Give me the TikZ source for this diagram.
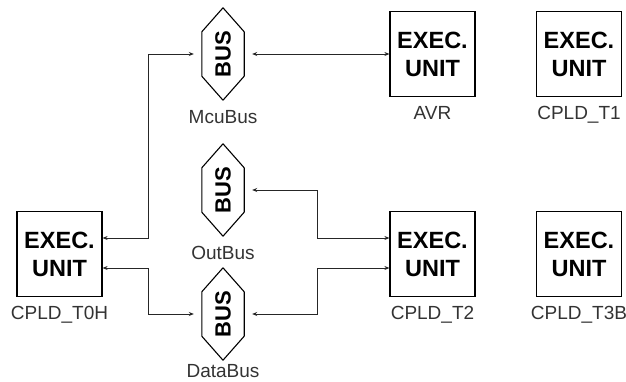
\documentclass[tikz,border=0pt]{standalone}
\usepackage{fontspec}
\setmainfont{Liberation Sans}
\usetikzlibrary{arrows.meta,positioning}

\begin{document}
\begin{tikzpicture}[
    x=1pt, y=-1pt,
    unitbox/.style={draw, line width=1.2pt, minimum size=85pt, inner sep=0pt, align=center,
        font=\fontsize{23.5}{28}\selectfont\bfseries},
    busnode/.style={minimum width=42pt, minimum height=92pt, inner sep=0pt,
        font=\fontsize{22}{22}\selectfont\bfseries},
    unitlbl/.style={inner sep=0pt, font=\fontsize{19}{19}\selectfont, text=black!80},
    link/.style={<->, black!85, line width=0.7pt, shorten <=8pt},
    >={Stealth[length=5pt,width=4pt]},
]
    \useasboundingbox (0,0) rectangle (626,382);
    % execution units
    \node[unitbox] (t0h) at (59.5,254) {EXEC.\\UNIT};
    \node[unitbox] (avr) at (432.5,54) {EXEC.\\UNIT};
    \node[unitbox] (t1)  at (579,54) {EXEC.\\UNIT};
    \node[unitbox] (t2)  at (432.5,254) {EXEC.\\UNIT};
    \node[unitbox] (t3b) at (579,254) {EXEC.\\UNIT};
    % buses
    \node[busnode] (mcu)  at (223,54)  {\rotatebox{90}{BUS}};
    \node[busnode] (out)  at (223,190) {\rotatebox{90}{BUS}};
    \node[busnode] (data) at (223,314) {\rotatebox{90}{BUS}};
    \foreach \b in {mcu,out,data} {
        \draw[line width=1.1pt, line join=round] (\b.north) -- ([yshift=-24pt]\b.north west)
            -- ([yshift=24pt]\b.south west) -- (\b.south) -- ([yshift=24pt]\b.south east)
            -- ([yshift=-24pt]\b.north east) -- cycle;
    }
    % names
    \node[unitlbl, below=9pt of t0h] (t0h-lbl) {CPLD\_T0H};
    \node[unitlbl, below=9pt of avr] (avr-lbl) {AVR};
    \node[unitlbl, below=9pt of t1]  (t1-lbl)  {CPLD\_T1};
    \node[unitlbl, below=9pt of t2]  (t2-lbl)  {CPLD\_T2};
    \node[unitlbl, below=9pt of t3b] (t3b-lbl) {CPLD\_T3B};
    \node[unitlbl, below=10pt of mcu]  (mcu-lbl)  {McuBus};
    \node[unitlbl, below=10pt of out]  (out-lbl)  {OutBus};
    \node[unitlbl, below=4pt of data] (data-lbl) {DataBus};
    % ports and bends
    \coordinate (t0h-a) at ([yshift=16pt]t0h.east);
    \coordinate (t0h-b) at ([yshift=-14pt]t0h.east);
    \coordinate (t2-a) at ([yshift=16pt]t2.west);
    \coordinate (t2-b) at ([yshift=-14pt]t2.west);
    \coordinate (lbend) at (148,0);
    \coordinate (rbend) at (317,0);
    % connections
    \draw[link] (mcu.east) -- (avr.west);
    \draw[link] (mcu.west) -| (lbend |- t0h-a) -- (t0h-a);
    \draw[link] (data.west) -| (lbend |- t0h-b) -- (t0h-b);
    \draw[link] (out.east) -| (rbend |- t2-a) -- (t2-a);
    \draw[link] (data.east) -| (rbend |- t2-b) -- (t2-b);
\end{tikzpicture}
\end{document}
